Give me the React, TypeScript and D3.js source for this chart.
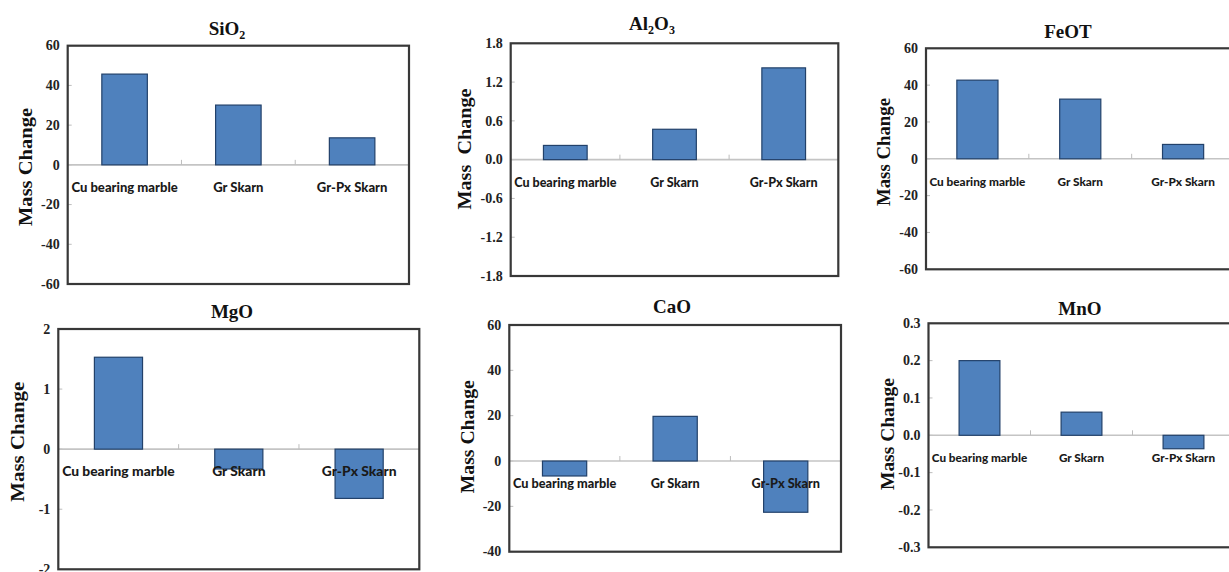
import React, { useEffect, useRef } from 'react';
import * as d3 from 'd3';

const categories = ['Cu bearing marble', 'Gr Skarn', 'Gr-Px Skarn'];

// mass change values
const sio2 = [45.7, 30.1, 13.6];
const al2o3 = [0.22, 0.47, 1.42];
const feot = [42.7, 32.4, 7.8];
const mgo = [1.53, -0.33, -0.82];
const cao = [-6.6, 19.7, -22.6];
const mno = [0.2, 0.062, -0.036];

const ticks60 = [-60, -40, -20, 0, 20, 40, 60];
const ticksAl = [-1.8, -1.2, -0.6, 0, 0.6, 1.2, 1.8];
const ticksMg = [-2, -1, 0, 1, 2];
const ticksCa = [-40, -20, 0, 20, 40, 60];
const ticksMn = [-0.3, -0.2, -0.1, 0, 0.1, 0.2, 0.3];

const panels = [
  { title: [{ t: 'SiO' }, { t: '2', sub: true }], values: sio2, ticks: ticks60, fmt: 'd', yTitle: 'Mass Change' },
  { title: [{ t: 'Al' }, { t: '2', sub: true }, { t: 'O' }, { t: '3', sub: true }], values: al2o3, ticks: ticksAl, fmt: '.1f', yTitle: 'Mass  Change' },
  { title: [{ t: 'FeOT' }], values: feot, ticks: ticks60, fmt: 'd', yTitle: 'Mass Change' },
  { title: [{ t: 'MgO' }], values: mgo, ticks: ticksMg, fmt: 'd', yTitle: 'Mass Change' },
  { title: [{ t: 'CaO' }], values: cao, ticks: ticksCa, fmt: 'd', yTitle: 'Mass Change' },
  { title: [{ t: 'MnO' }], values: mno, ticks: ticksMn, fmt: '.1f', yTitle: 'Mass Change' },
];

// plot frame + title / axis title placement for each panel
const layout = [
  { x0: 67.7, y0: 45.7, x1: 409, y1: 284, tx: 227, ty: 35, ax: 26, ay: 167, alen: 118 },
  { x0: 510.7, y0: 43.3, x1: 838.3, y1: 276, tx: 652, ty: 30, ax: 465, ay: 149, alen: 121 },
  { x0: 926, y0: 48.3, x1: 1234.5, y1: 269.3, tx: 1068, ty: 38, ax: 884, ay: 152, alen: 108 },
  { x0: 58.3, y0: 329, x1: 419.3, y1: 569.3, tx: 232, ty: 318, ax: 18.3, ay: 441.7, alen: 120 },
  { x0: 509.3, y0: 325, x1: 841, y1: 551.7, tx: 672, ty: 312.5, ax: 467.5, ay: 436.7, alen: 113 },
  { x0: 928.5, y0: 323.3, x1: 1234.5, y1: 547.3, tx: 1080, ty: 315, ax: 887.5, ay: 434, alen: 112 },
];

const W = 1229;
const H = 572;
const serif = '"Liberation Serif", "Times New Roman", serif';

function MassChangePanels() {
  const svgRef = useRef(null);

  useEffect(() => {
    const svg = d3.select(svgRef.current);
    svg.selectAll('*').remove();

    panels.forEach((p, i) => {
      const L = layout[i];
      const g = svg.append('g');

      const x = d3.scaleBand().domain(categories).range([L.x0, L.x1]).paddingInner(0.6).paddingOuter(0.3);
      const y = d3.scaleLinear().domain([p.ticks[0], p.ticks[p.ticks.length - 1]]).range([L.y1, L.y0]);
      const fmt = d3.format(p.fmt);
      const step = (L.x1 - L.x0) / categories.length;

      g.append('rect')
        .attr('x', L.x0).attr('y', L.y0)
        .attr('width', L.x1 - L.x0).attr('height', L.y1 - L.y0)
        .attr('fill', '#fff');

      // inner y tick marks
      g.selectAll('.ytick')
        .data(p.ticks)
        .enter()
        .append('line')
        .attr('x1', L.x0).attr('x2', L.x0 + 4)
        .attr('y1', (d) => y(d)).attr('y2', (d) => y(d))
        .attr('stroke', '#bdbdbd').attr('stroke-width', 1);

      g.append('line')
        .attr('x1', L.x0).attr('x2', L.x1)
        .attr('y1', y(0)).attr('y2', y(0))
        .attr('stroke', '#c4c4c4').attr('stroke-width', 1.6);

      g.selectAll('.bar')
        .data(p.values)
        .enter()
        .append('rect')
        .attr('x', (d, j) => x(categories[j]))
        .attr('width', x.bandwidth())
        .attr('y', (d) => Math.min(y(d), y(0)))
        .attr('height', (d) => Math.abs(y(d) - y(0)))
        .attr('fill', '#4f81bd')
        .attr('stroke', '#22416a')
        .attr('stroke-width', 1.2);

      // category tick marks on the zero line
      g.selectAll('.ctick')
        .data(d3.range(1, categories.length))
        .enter()
        .append('line')
        .attr('x1', (d) => L.x0 + d * step).attr('x2', (d) => L.x0 + d * step)
        .attr('y1', y(0) - 5).attr('y2', y(0))
        .attr('stroke', '#bdbdbd').attr('stroke-width', 1);

      g.selectAll('.clabel')
        .data(categories)
        .enter()
        .append('text')
        .attr('x', (d) => x(d) + x.bandwidth() / 2)
        .attr('y', y(0) + 27)
        .attr('text-anchor', 'middle')
        .attr('font-family', 'Lato, "Open Sans", sans-serif')
        .attr('font-weight', 900)
        .attr('font-size', step / 8.7)
        .attr('fill', '#1a1a1a')
        .text((d) => d);

      g.selectAll('.ylabel')
        .data(p.ticks)
        .enter()
        .append('text')
        .attr('x', L.x0 - 8)
        .attr('y', (d) => y(d))
        .attr('dy', '0.34em')
        .attr('text-anchor', 'end')
        .attr('font-family', serif)
        .attr('font-weight', 700)
        .attr('font-size', 14)
        .attr('fill', '#222')
        .text((d) => fmt(d).replace('\u2212', '-'));

      g.append('rect')
        .attr('x', L.x0).attr('y', L.y0)
        .attr('width', L.x1 - L.x0).attr('height', L.y1 - L.y0)
        .attr('fill', 'none')
        .attr('stroke', '#383838').attr('stroke-width', 2.2);

      const title = g.append('text')
        .attr('x', L.tx).attr('y', L.ty)
        .attr('text-anchor', 'middle')
        .attr('font-family', serif)
        .attr('font-weight', 700)
        .attr('font-size', 19)
        .attr('fill', '#111');
      p.title.forEach((s, k) => {
        const ts = title.append('tspan').text(s.t);
        if (s.sub) ts.attr('font-size', 12).attr('dy', 4);
        else if (k > 0) ts.attr('dy', -4);
      });

      g.append('text')
        .attr('transform', `translate(${L.ax + 6},${L.ay}) rotate(-90)`)
        .attr('text-anchor', 'middle')
        .attr('font-family', serif)
        .attr('font-weight', 700)
        .attr('font-size', 19)
        .attr('fill', '#111')
        .attr('textLength', L.alen)
        .attr('lengthAdjust', 'spacingAndGlyphs')
        .style('white-space', 'pre')
        .text(p.yTitle);
    });
  }, []);

  return <svg ref={svgRef} width={W} height={H} style={{ position: 'absolute', left: 0, top: 0, background: '#fff' }}></svg>;
}

export default function App() {
  return <MassChangePanels />;
}
